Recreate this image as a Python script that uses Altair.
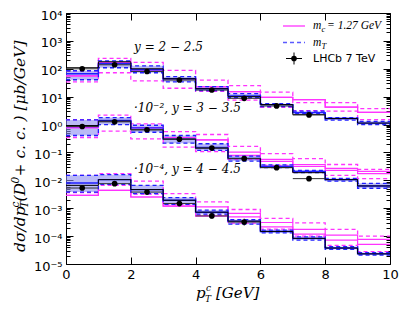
import altair as alt
import pandas as pd

bin_edges = [0, 1, 2, 3, 4, 5, 6, 7, 8, 9, 10]
bin_centers = [0.5, 1.5, 2.5, 3.5, 4.5, 5.5, 6.5, 7.5]

# ---- y = 2 - 2.5
g1_black = [109, 178, 100, 44, 19.3, 10, 5.2, 2.27, 1.64, 1.13]
g1_blue = [66, 151, 92, 44, 19.3, 10.7, 5.2, 2.68, 1.64, 1.13]
g1_blue_hi = [85, 193, 128, 52, 22.8, 12.8, 5.6, 3.03, 1.78, 1.31]
g1_blue_lo = [40.5, 109, 72, 34, 16.4, 9.2, 4.4, 2.47, 1.45, 1.0]
g1_mag = [56, 164, 92, 44, 22.8, 15.1, 9.4, 7.8, 4.2, 2.75]
g1_mag2 = [56, 164, 92, 44, 22.8, 15.1, 9.4, 7.8, 4.2, 2.75]
g1_mag_d1 = [85, 237, 171, 88, 39.5, 24.7, 14.5, 6.1, 6.1, 3.73]
g1_mag_d2 = [34, 72, 37, 20, 15.5, 7.5, 4.15, 3.16, 3.03, 1.51]
g1_data = [100, 139, 80, 39.5, 17.3, 8.7, 4.65, 2.22]
g1_data_lo = [86, 118, 69, 34, 15, 7.6, 4.0, 1.85]
g1_data_hi = [116, 163, 93, 46, 20, 10, 5.4, 2.65]

# ---- 10^-2, y = 3 - 3.5
g2_black = [0.92, 1.33, 0.65, 0.30, 0.143, 0.061, 0.029, 0.0188, 0.0106, 0.0063]
g2_blue = [0.85, 1.39, 0.76, 0.30, 0.15, 0.061, 0.0316, 0.021, 0.0106, 0.0063]
g2_blue_hi = [1.47, 1.78, 0.944, 0.405, 0.205, 0.074, 0.036, 0.0228, 0.0117, 0.0078]
g2_blue_lo = [0.405, 1.0, 0.53, 0.215, 0.118, 0.049, 0.0284, 0.0188, 0.0093, 0.0052]
g2_mag = [0.78, 1.39, 0.78, 0.343, 0.284, 0.102, 0.056, 0.037, 0.0268, 0.021]
g2_mag2 = [0.78, 1.39, 0.78, 0.343, 0.284, 0.078, 0.048, 0.0316, 0.0228, 0.0173]
g2_mag_d1 = [1.5, 2.18, 1.06, 0.56, 0.44, 0.164, 0.090, 0.060, 0.037, 0.0247]
g2_mag_d2 = [0.343, 0.58, 0.308, 0.155, 0.107, 0.056, 0.034, 0.0198, 0.0151, 0.0115]
g2_data = [0.85, 1.25, 0.65, 0.30, 0.143, 0.060, 0.0284, 0.0115]
g2_data_lo = [0.72, 1.06, 0.56, 0.26, 0.123, 0.050, 0.024, 0.0095]
g2_data_hi = [1.0, 1.47, 0.76, 0.35, 0.166, 0.072, 0.0335, 0.014]

# ---- 10^-4, y = 4 - 4.5
g3_black = [0.0066, 0.0106, 0.00466, 0.00193, 0.00072, 0.000343, 0.000147, 0.000083, 0.0000373, 0.0000231]
g3_blue = [0.0080, 0.0106, 0.00466, 0.00193, 0.00072, 0.000343, 0.000147, 0.000083, 0.0000373, 0.0000231]
g3_blue_hi = [0.0151, 0.016, 0.0066, 0.00241, 0.00085, 0.00039, 0.000164, 0.0000944, 0.0000415, 0.0000253]
g3_blue_lo = [0.0038, 0.0072, 0.00335, 0.00139, 0.00061, 0.000268, 0.000131, 0.000072, 0.0000335, 0.000021]
g3_mag = [0.0029, 0.0044, 0.00253, 0.00118, 0.00111, 0.00065, 0.000308, 0.000173, 0.000109, 0.0000762]
g3_mag2 = [0.0029, 0.0044, 0.00253, 0.00118, 0.00052, 0.00049, 0.000215, 0.000118, 0.000072, 0.0000506]
g3_mag_d1 = [0.0151, 0.0173, 0.0094, 0.00335, 0.00168, 0.0009, 0.00043, 0.000298, 0.000173, 0.0001]
g3_mag_d2 = [0.0036, 0.0066, 0.0032, 0.00133, 0.00056, 0.00029, 0.000177, 0.0001, 0.0000465, 0.000028]
g3_data = [0.0053, 0.0076, 0.0038, 0.00147, 0.00053, 0.00032]
g3_data_lo = [0.0045, 0.0065, 0.0032, 0.00125, 0.00043, 0.00024]
g3_data_hi = [0.0062, 0.0089, 0.0045, 0.00172, 0.00065, 0.00042]

group_labels = ["y = 2 − 2.5", "·10⁻², y = 3 − 3.5", "·10⁻⁴, y = 4 − 4.5"]
label_x = [2.1, 2.1, 2.1]
label_y = [600, 3.9, 0.026]

MAG = "#ff33ff"
BLUE = "#1f1fff"
BAND = "#8c8cf0"
SERIF = "DejaVu Serif"


def step_rows(group, series, vals):
    rows = []
    for i, v in enumerate(vals):
        rows.append({"g": group, "s": series, "x": bin_edges[i], "y": v})
    rows.append({"g": group, "s": series, "x": bin_edges[-1], "y": vals[-1]})
    return rows


def band_rows(group, lo, hi):
    rows = []
    for i in range(len(lo)):
        rows.append({"g": group, "x": bin_edges[i], "lo": lo[i], "hi": hi[i]})
    rows.append({"g": group, "x": bin_edges[-1], "lo": lo[-1], "hi": hi[-1]})
    return rows


groups = [
    ("g1", g1_black, g1_blue, g1_blue_lo, g1_blue_hi, g1_mag, g1_mag2, g1_mag_d1, g1_mag_d2, g1_data, g1_data_lo, g1_data_hi),
    ("g2", g2_black, g2_blue, g2_blue_lo, g2_blue_hi, g2_mag, g2_mag2, g2_mag_d1, g2_mag_d2, g2_data, g2_data_lo, g2_data_hi),
    ("g3", g3_black, g3_blue, g3_blue_lo, g3_blue_hi, g3_mag, g3_mag2, g3_mag_d1, g3_mag_d2, g3_data, g3_data_lo, g3_data_hi),
]

black_rows, blue_rows, bluedash_rows, mag_rows, magdash_rows, band_all, pts = [], [], [], [], [], [], []
for (g, blk, blu, blo, bhi, m1, m2, md1, md2, d, dlo, dhi) in groups:
    black_rows += step_rows(g, "black", blk)
    blue_rows += step_rows(g, "blue", blu)
    bluedash_rows += step_rows(g, "blo", blo) + step_rows(g, "bhi", bhi)
    mag_rows += step_rows(g, "m1", m1) + step_rows(g, "m2", m2)
    magdash_rows += step_rows(g, "d1", md1) + step_rows(g, "d2", md2)
    band_all += band_rows(g, blo, bhi)
    for i, v in enumerate(d):
        pts.append({"g": g, "x": bin_centers[i], "xl": bin_edges[i], "xr": bin_edges[i + 1],
                    "y": v, "lo": dlo[i], "hi": dhi[i]})

df_black = pd.DataFrame(black_rows)
df_blue = pd.DataFrame(blue_rows)
df_bluedash = pd.DataFrame(bluedash_rows)
df_mag = pd.DataFrame(mag_rows)
df_magdash = pd.DataFrame(magdash_rows)
df_band = pd.DataFrame(band_all)
df_pts = pd.DataFrame(pts)
df_lab = pd.DataFrame({"t": group_labels, "x": label_x, "y": label_y})
one = pd.DataFrame({"a": [0]})

xs = alt.Scale(domain=[0, 10], nice=False, zero=False)
ys = alt.Scale(type="log", domain=[1e-5, 1e4], nice=False)

major_y = [1e-5, 1e-4, 1e-3, 1e-2, 1e-1, 1, 10, 100, 1000, 10000]
minor_y = [m * 10.0 ** e for e in range(-5, 4) for m in range(2, 10)]
major_x = [0, 2, 4, 6, 8, 10]

sup_expr = ("'10' + replace(replace(replace(replace(replace(replace(replace("
            "toString(round(log(datum.value)/LN10)), '-', '⁻'), '0', '⁰'), '1', '¹'), "
            "'2', '²'), '3', '³'), '4', '⁴'), '5', '⁵')")

ax_bottom = alt.Axis(orient="bottom", values=major_x, format="d", tickSize=7, offset=-7,
                     domain=False, grid=False, labelFlush=False, labelOverlap=False,
                     labelFont="DejaVu Sans", labelFontSize=13, labelPadding=4, labelColor="black",
                     tickColor="black", title=None)
ax_top = alt.Axis(orient="top", values=major_x, tickSize=7, offset=-7, domain=False,
                  grid=False, labels=False, tickColor="black", title=None)
ax_left = alt.Axis(orient="left", values=major_y, tickSize=7, offset=-7, domain=False,
                   grid=False, labelExpr=sup_expr, labelFont="DejaVu Sans", labelFontSize=13,
                   labelPadding=4, labelOffset=2, labelColor="black", labelOverlap=False,
                   labelFlush=False, tickColor="black", title=None)
ax_right = alt.Axis(orient="right", values=major_y, tickSize=7, offset=-7, domain=False,
                    grid=False, labels=False, tickColor="black", title=None)
ax_left_minor = alt.Axis(orient="left", values=minor_y, tickSize=4, offset=-4, domain=False,
                         grid=False, labels=False, tickColor="black", title=None)
ax_right_minor = alt.Axis(orient="right", values=minor_y, tickSize=4, offset=-4, domain=False,
                          grid=False, labels=False, tickColor="black", title=None)

band = alt.Chart(df_band).mark_area(interpolate="step-after", color=BAND, opacity=0.6).encode(
    x=alt.X("x:Q", scale=xs, axis=ax_bottom),
    y=alt.Y("lo:Q", scale=ys, axis=ax_left),
    y2="hi:Q",
    detail="g:N",
)

magdash = alt.Chart(df_magdash).mark_line(interpolate="step-after", color=MAG, strokeWidth=1.3,
                                          strokeDash=[4, 3]).encode(
    x=alt.X("x:Q", scale=xs, axis=None),
    y=alt.Y("y:Q", scale=ys, axis=None),
    detail=["g:N", "s:N"],
)
mag = alt.Chart(df_mag).mark_line(interpolate="step-after", color=MAG, strokeWidth=1.2).encode(
    x=alt.X("x:Q", scale=xs, axis=None),
    y=alt.Y("y:Q", scale=ys, axis=None),
    detail=["g:N", "s:N"],
)
bluedash = alt.Chart(df_bluedash).mark_line(interpolate="step-after", color=BLUE, strokeWidth=1.3,
                                            strokeDash=[4, 3]).encode(
    x=alt.X("x:Q", scale=xs, axis=None),
    y=alt.Y("y:Q", scale=ys, axis=ax_right_minor),
    detail=["g:N", "s:N"],
)
blue = alt.Chart(df_blue).mark_line(interpolate="step-after", color=BLUE, strokeWidth=1.4).encode(
    x=alt.X("x:Q", scale=xs, axis=None),
    y=alt.Y("y:Q", scale=ys, axis=ax_left_minor),
    detail="g:N",
)
black = alt.Chart(df_black).mark_line(interpolate="step-after", color="black", strokeWidth=1).encode(
    x=alt.X("x:Q", scale=xs, axis=ax_top),
    y=alt.Y("y:Q", scale=ys, axis=ax_right),
    detail="g:N",
)

xerr = alt.Chart(df_pts).mark_rule(color="#333333", strokeWidth=1).encode(
    x=alt.X("xl:Q", scale=xs, axis=None), x2="xr:Q",
    y=alt.Y("y:Q", scale=ys, axis=None),
)
yerr = alt.Chart(df_pts).mark_rule(color="black", strokeWidth=1).encode(
    x=alt.X("x:Q", scale=xs, axis=None),
    y=alt.Y("lo:Q", scale=ys, axis=None), y2="hi:Q",
)
dots = alt.Chart(df_pts).mark_point(filled=True, color="black", size=32, opacity=1).encode(
    x=alt.X("x:Q", scale=xs, axis=None),
    y=alt.Y("y:Q", scale=ys, axis=None),
)

labels = alt.Chart(df_lab).mark_text(align="left", baseline="middle", font=SERIF,
                                     fontStyle="italic", fontSize=12, color="black").encode(
    x=alt.X("x:Q", scale=xs, axis=None),
    y=alt.Y("y:Q", scale=ys, axis=None),
    text="t:N",
)


def txt(s, x, y, size, font=SERIF, italic=True, angle=0, align="left"):
    kw = dict(align=align, baseline="middle", font=font, fontSize=size, color="black")
    if italic:
        kw["fontStyle"] = "italic"
    if angle:
        kw["angle"] = angle
    return alt.Chart(one).mark_text(**kw).encode(
        x=alt.value(x), y=alt.value(y), text=alt.value(s))


# legend (decoration, positioned in pixels inside the plot area)
leg = [
    alt.Chart(one).mark_rule(color=MAG, strokeWidth=1.3).encode(
        x=alt.value(217), x2=alt.value(239), y=alt.value(13)),
    alt.Chart(one).mark_rule(color="#5a5aff", strokeWidth=1.6, strokeDash=[4, 3]).encode(
        x=alt.value(217), x2=alt.value(239), y=alt.value(29.5)),
    alt.Chart(one).mark_rule(color="black", strokeWidth=1).encode(
        x=alt.value(220), x2=alt.value(236), y=alt.value(45.5)),
    alt.Chart(one).mark_rule(color="black", strokeWidth=1).encode(
        x=alt.value(228), y=alt.value(39.5), y2=alt.value(51.5)),
    alt.Chart(one).mark_point(filled=True, color="black", size=32, opacity=1).encode(
        x=alt.value(228), y=alt.value(45.5)),
    txt("m", 247, 13, 11.5, font="Liberation Serif"),
    txt("c", 255.5, 16, 8.5, font="Liberation Serif"),
    txt("= 1.27 GeV", 261, 13, 11.5, font="Liberation Serif"),
    txt("m", 247, 29.5, 11.5, font="Liberation Serif"),
    txt("T", 255.5, 32.5, 8.5, font="Liberation Serif"),
    txt("LHCb 7 TeV", 247, 45.5, 11, font="DejaVu Sans", italic=False),
]

# axis titles composed of pieces (super/subscripts)
xt = [
    txt("p", 130, 280, 15),
    txt("c", 140, 274.5, 9),
    txt("T", 139, 285.5, 9),
    txt("[GeV]", 150, 280, 15),
]
YX = -46
yt = [
    txt("dσ/dp", YX, 239, 15.5, angle=270),
    txt("c", YX - 4.5, 194.5, 10.5, angle=270),
    txt("T", YX + 4.5, 195, 10.5, angle=270),
    txt("(D", YX, 188.5, 15.5, angle=270),
    txt("0", YX - 4.5, 170.5, 10.5, angle=270),
    txt(" + c. c. ) [μb/GeV]", YX, 163.5, 15.5, angle=270),
]

chart = alt.layer(
    band, magdash, mag, bluedash, blue, black, xerr, yerr, dots, labels, *leg, *xt, *yt,
).resolve_axis(x="independent", y="independent").properties(
    width=324, height=251,
    autosize=alt.AutoSizeParams(type="none"),
    padding={"left": 58, "top": 5, "right": 9, "bottom": 40},
).configure_view(stroke="black", strokeWidth=1)

chart.save("out.html", embed_options={"renderer": "svg", "actions": False})
